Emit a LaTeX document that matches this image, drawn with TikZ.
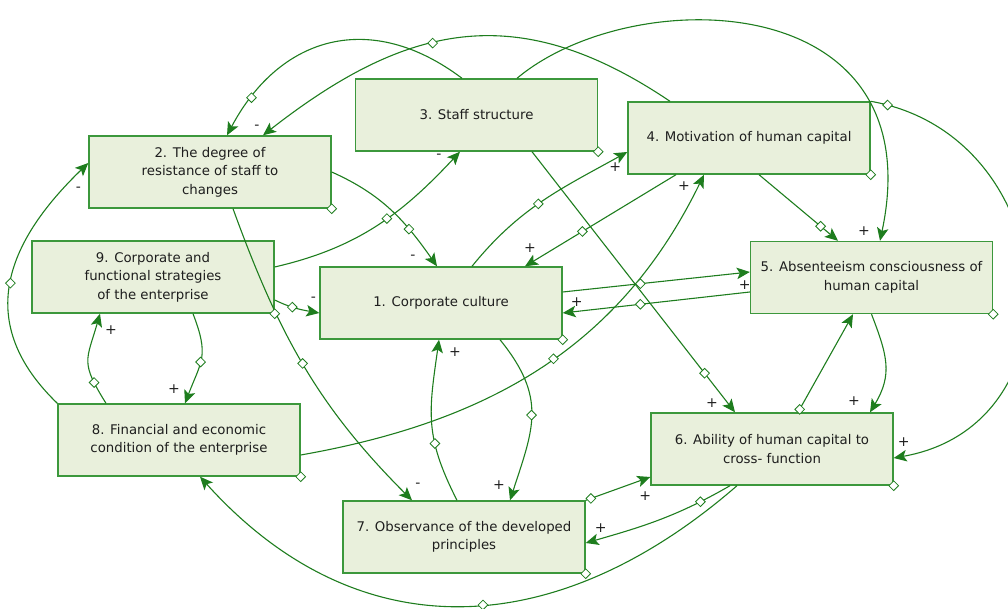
\documentclass[tikz,border=0pt]{standalone}
\usepackage{fontspec}
\setmainfont{DejaVu Sans}
\usetikzlibrary{arrows.meta,shapes.geometric}
\definecolor{boxfill}{HTML}{E9F0DC}
\definecolor{boxline}{HTML}{3C983C}
\definecolor{lnk}{HTML}{1E7D1E}
\definecolor{txt}{HTML}{1E1E1E}
\begin{document}
\begin{tikzpicture}[x=1pt,y=1pt,
  box/.style={draw=boxline,line width=1.4pt,fill=boxfill,minimum width=242pt,minimum height=72pt,align=center,text=txt,font=\fontsize{13.3}{18.5}\selectfont},
  link/.style={draw=lnk,line width=1.1pt,-{Stealth[length=13pt,width=11.5pt,inset=3pt]}},
  dmd/.style={diamond,draw=lnk,fill=white,line width=0.8pt,inner sep=0pt,minimum size=10pt},
  sgn/.style={text=txt,font=\fontsize{14}{15}\selectfont,inner sep=0pt}]
 \useasboundingbox (0,0) rectangle (1008,608);
 % factors
 \node[box] (n1) at (441,305) {1. Corporate culture};
 \node[box] (n2) at (210,436) {2. The degree of\\resistance of staff to\\changes};
 \node[box] (n3) at (476.5,493) {3. Staff structure};
 \node[box] (n4) at (749,470) {4. Motivation of human capital};
 \node[box] (n5) at (871.5,330.5) {5. Absenteeism consciousness of\\human capital};
 \node[box] (n6) at (772,159) {6. Ability of human capital to\\cross- function};
 \node[box] (n7) at (464,71) {7. Observance of the developed\\principles};
 \node[box] (n8) at (179,168) {8. Financial and economic\\condition of the enterprise};
 \node[box] (n9) at (153,331) {9. Corporate and\\functional strategies\\of the enterprise};
 % links
 \path ([xshift=-14.5pt]n3.north) edge[link,out=143,in=62,looseness=1.2] node[dmd,pos=.86]{} ([xshift=17pt]n2.north);
 \path ([xshift=-79pt]n4.north) edge[link,out=146,in=38,looseness=1.15] node[dmd,pos=.58]{} node[sgn,at end,xshift=-6pt,yshift=8pt]{-} ([xshift=53pt]n2.north);
 \path ([xshift=40.5pt]n3.north) edge[link,out=40,in=78,out distance=150pt,in distance=260pt] node[sgn,at end,xshift=-16pt,yshift=10pt]{+} ([xshift=8.5pt]n5.north);
 \path (n4.north east) edge[link,out=-10,in=10,looseness=1.4] node[dmd,pos=.03]{} node[sgn,at end,xshift=10pt,yshift=16pt]{+} ([yshift=-9pt]n6.east);
 \path (n2.east) edge[link,out=-24,in=125] node[dmd,pos=.69]{} node[sgn,at end,xshift=-24pt,yshift=9pt]{-} ([xshift=-4pt]n1.north);
 \path ([yshift=10pt]n9.east) edge[link,out=13,in=-133] node[dmd,pos=.56]{} node[sgn,at end,xshift=-21pt,yshift=-5pt]{-} ([xshift=-16.5pt]n3.south);
 \path (n8.north west) edge[link,out=136,in=-136,looseness=1.22] node[dmd,pos=.5]{} node[sgn,at end,xshift=-10pt,yshift=-26pt]{-} ([yshift=9pt]n2.west);
 \path ([xshift=23pt]n2.south) edge[link,out=-70,in=135] node[dmd,pos=.49]{} node[sgn,at end,xshift=6pt,yshift=15pt]{-} ([xshift=-52pt]n7.north);
 \path ([yshift=-23pt]n9.east) edge[link,out=-26,in=170] node[dmd,pos=.4]{} node[sgn,at end,xshift=-6pt,yshift=14pt]{-} ([yshift=-10pt]n1.west);
 \path ([xshift=40pt]n9.south) edge[link,out=-69,in=69,looseness=1.3] node[dmd,pos=.55]{} node[sgn,at end,xshift=-11pt,yshift=14pt]{+} ([xshift=6pt]n8.north);
 \path ([xshift=-73pt]n8.north) edge[link,out=122,in=-106,looseness=1.4] node[dmd,pos=.2]{} node[sgn,at end,xshift=11pt,yshift=-16pt]{+} ([xshift=-53pt]n9.south);
 \path ([yshift=-15pt]n8.east) edge[link,out=10,in=-116] node[dmd,pos=.53]{} node[sgn,at end,xshift=-20pt,yshift=-11pt]{+} ([xshift=-45pt]n4.south);
 \path ([xshift=31pt]n1.north) edge[link,out=51,in=-151] node[dmd,pos=.47]{} node[sgn,at end,xshift=-12pt,yshift=-15pt]{+} ([yshift=-14pt]n4.west);
 \path ([xshift=-73pt]n4.south) edge[link] node[dmd,pos=.62]{} node[sgn,at end,xshift=5pt,yshift=18pt]{+} ([xshift=84pt]n1.north);
 \path ([xshift=10pt]n4.south) edge[link] node[dmd,pos=.78]{} ([xshift=-33.5pt]n5.north);
 \path ([yshift=11pt]n1.east) edge[link] node[dmd,pos=.415]{} node[sgn,at end,xshift=-5pt,yshift=-13pt]{+} ([yshift=5.5pt]n5.west);
 \path ([xshift=55.5pt]n3.south) edge[link] node[dmd,pos=.85]{} node[sgn,at end,xshift=-23pt,yshift=9pt]{+} ([xshift=-37pt]n6.north);
 \path ([yshift=-14.5pt]n5.west) edge[link] node[dmd,pos=.585]{} node[sgn,at end,xshift=14pt,yshift=11pt]{+} ([yshift=-10pt]n1.east);
 \path ([xshift=59pt]n1.south) edge[link,out=-51,in=72,looseness=1.2] node[dmd,pos=.5]{} node[sgn,at end,xshift=-11pt,yshift=15pt]{+} ([xshift=46pt]n7.north);
 \path ([xshift=-7pt]n7.north) edge[link,out=117,in=-98,looseness=1.15] node[dmd,pos=.35]{} node[sgn,at end,xshift=16pt,yshift=-12pt]{+} ([xshift=-2pt]n1.south);
 \path (n7.north east) edge[link] node[dmd,pos=.08]{} node[sgn,at end,xshift=-5pt,yshift=-19pt]{+} ([yshift=-28pt]n6.west);
 \path ([xshift=-42pt]n6.south) edge[link,out=210,in=16] node[dmd,pos=.2]{} node[sgn,at end,xshift=15pt,yshift=15pt]{+} ([yshift=-6pt]n7.east);
 \path ([xshift=-35pt]n6.south) edge[link,out=221,in=-48,looseness=1.13] node[dmd,pos=.46]{} ([xshift=21pt]n8.south);
 \path ([xshift=26pt]n6.north) edge[link] node[dmd,pos=.03]{} ([xshift=-18.5pt]n5.south);
 \path (n5.south) edge[link,out=-69,in=59,looseness=1.15] node[sgn,at end,xshift=-16pt,yshift=11pt]{+} ([xshift=98pt]n6.north);
 % corner handles
 \foreach \i in {1,...,9} \node[dmd] at (n\i.south east) {};
\end{tikzpicture}
\end{document}
